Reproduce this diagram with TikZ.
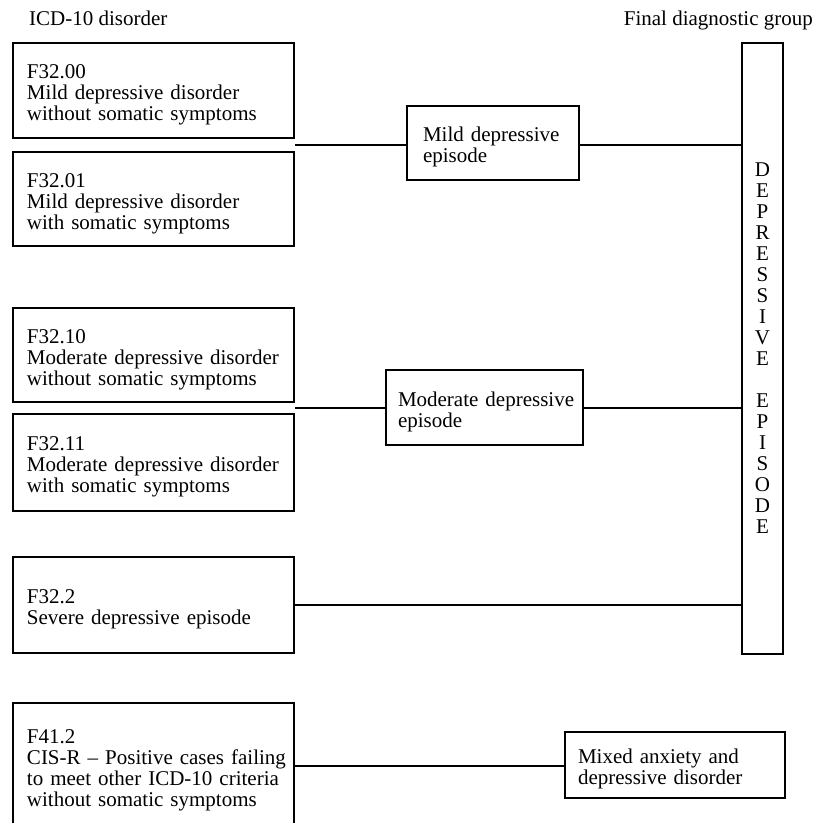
\documentclass[tikz,border=0pt]{standalone}
\usepackage{fontspec}
\setmainfont{Liberation Serif}
\usetikzlibrary{calc}
\newcommand{\cellstack}[1]{\begin{tabular}{@{}l@{}}\rule{0pt}{24.7pt}#1\end{tabular}}
\begin{document}
\begin{tikzpicture}[x=1pt,y=-1pt,
  txt/.style={font=\fontsize{21}{21}\selectfont},
  box/.style={txt, draw, line width=2.6pt, rectangle, inner sep=0pt},
  leftbox/.style={box, minimum width=281pt, text width=253pt, align=left},
  conn/.style={line width=2pt}]
\useasboundingbox (0,0) rectangle (815,823);

% headers
\node[txt, anchor=base west, inner sep=0pt] (h1) at (29,25) {ICD-10 disorder};
\node[txt, anchor=base east, inner sep=0pt] (h2) at (813,25) {Final diagnostic group};

% ICD-10 boxes
\node[leftbox, minimum height=95pt] (A) at (153.5,90.5) {\cellstack{F32.00\\Mild depressive disorder\\without somatic symptoms}};
\node[leftbox, minimum height=94pt] (B) at (153.5,199) {\cellstack{F32.01\\Mild depressive disorder\\with somatic symptoms}};
\node[leftbox, minimum height=94pt] (C) at (153.5,355) {\cellstack{F32.10\\Moderate depressive disorder\\without somatic symptoms}};
\node[leftbox, minimum height=97pt] (D) at (153.5,462.5) {\cellstack{F32.11\\Moderate depressive disorder\\with somatic symptoms}};
\node[leftbox, minimum height=96pt] (E) at (153.5,605) {\cellstack{F32.2\\Severe depressive episode}};
\node[leftbox, minimum height=126pt] (F) at (153.5,766) {\cellstack{F41.2\\CIS-R -- Positive cases failing\\to meet other ICD-10 criteria\\without somatic symptoms}};

% middle boxes
\node[box, minimum width=172pt, minimum height=74pt, text width=140pt, align=left] (M1) at (493,143) {\cellstack{Mild depressive\\episode}};
\node[box, minimum width=197pt, minimum height=75pt, text width=173pt, align=left] (M2) at (484.5,407.5) {\cellstack{Moderate depressive\\episode}};
\node[box, minimum width=220pt, minimum height=66pt, text width=194pt, align=left] (M3) at (675,765) {\cellstack{Mixed anxiety and\\depressive disorder}};

% tall box
\node[box, minimum width=41pt, minimum height=611pt, align=center] (T) at (762.5,348.5)
  {D\\E\\P\\R\\E\\S\\S\\I\\V\\E\\[21pt]E\\P\\I\\S\\O\\D\\E};

% connectors
\coordinate (j1) at ($(A.south east)!0.5!(B.north east)$);
\coordinate (j2) at ($(C.south east)!0.5!(D.north east)$);
\draw[conn] (j1) -- (j1 -| M1.west);
\draw[conn] (M1.east |- j1) -- (j1 -| T.west);
\draw[conn] (j2) -- (j2 -| M2.west);
\draw[conn] (M2.east |- j2) -- (j2 -| T.west);
\draw[conn] (E.east) -- (E.east -| T.west);
\draw[conn] (F.east) -- (F.east -| M3.west);
\end{tikzpicture}
\end{document}
